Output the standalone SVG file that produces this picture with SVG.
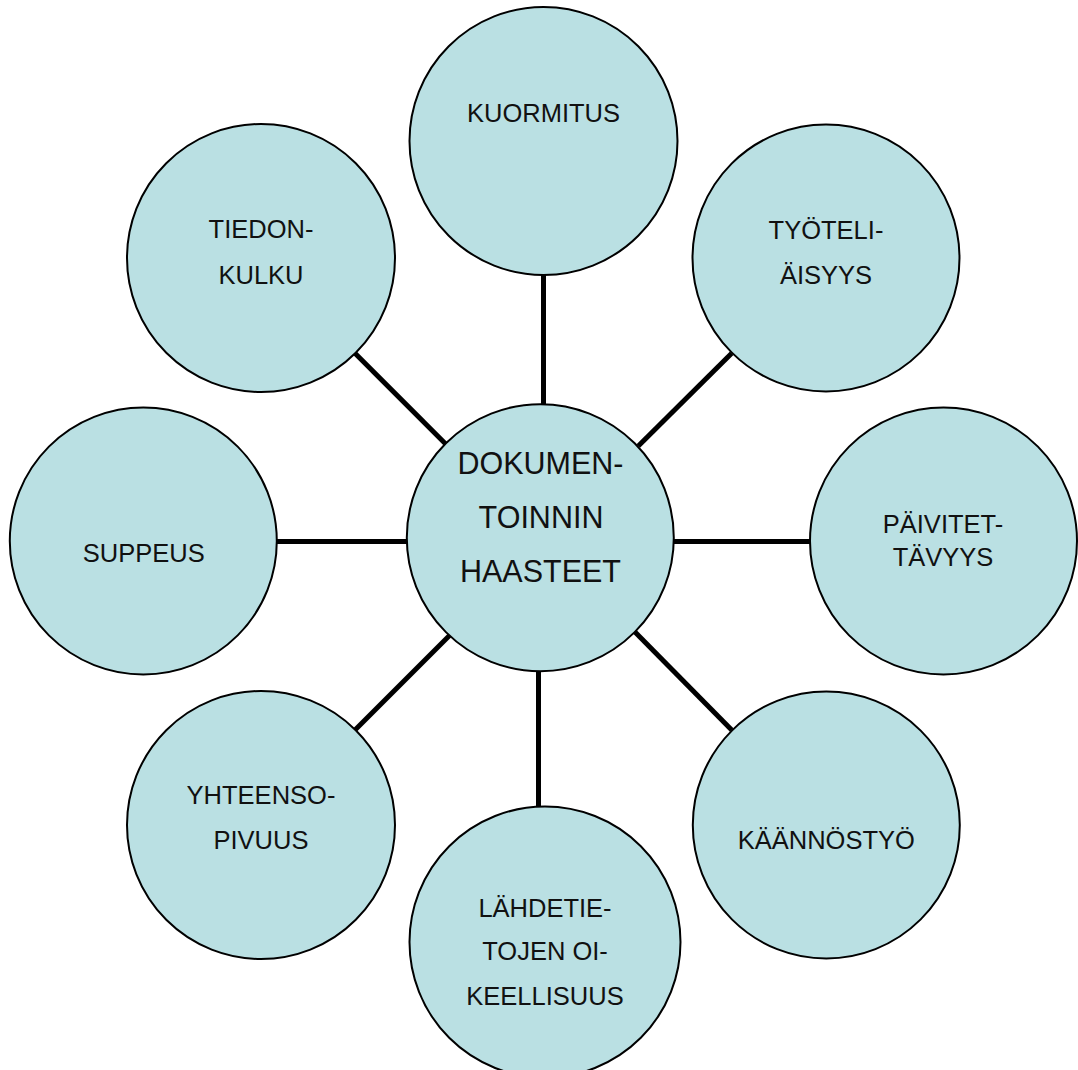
<svg xmlns="http://www.w3.org/2000/svg" width="1078" height="1070" viewBox="0 0 1078 1070">
<style>
.n{fill:#bae0e3;stroke:#000;stroke-width:2}
.c{stroke:#000;stroke-width:5;fill:none}
text{font-family:"Liberation Sans",Arial,sans-serif;font-size:25.5px;fill:#111;text-anchor:middle}
.big{font-size:30.5px}
</style>
<rect width="1078" height="1070" fill="#fff"/>
<g id="connectors">
<line class="c" x1="543.5" y1="275" x2="543.5" y2="405"/>
<line class="c" x1="731.7" y1="353.3" x2="638.3" y2="446"/>
<line class="c" x1="674" y1="541.5" x2="810" y2="541.5"/>
<line class="c" x1="634" y1="631" x2="731.7" y2="730"/>
<line class="c" x1="538.5" y1="671" x2="538.5" y2="807"/>
<line class="c" x1="450" y1="635" x2="355" y2="730"/>
<line class="c" x1="277" y1="541.5" x2="407" y2="541.5"/>
<line class="c" x1="355" y1="353.3" x2="446.7" y2="445"/>
</g>
<g id="kuormitus"><circle class="n" cx="543.5" cy="141" r="134"/><text x="543.5" y="121.7">KUORMITUS</text></g>
<g id="tyoteliaisyys"><circle class="n" cx="826" cy="258" r="133.5"/><text x="826" y="239">TYÖTELI-</text><text x="826" y="284">ÄISYYS</text></g>
<g id="paivitettavyys"><circle class="n" cx="943.5" cy="541" r="133.5"/><text x="943" y="532.7">PÄIVITET-</text><text x="943" y="565.7">TÄVYYS</text></g>
<g id="kaannostyo"><circle class="n" cx="826.3" cy="825" r="133.5"/><text x="826.3" y="849">KÄÄNNÖSTYÖ</text></g>
<g id="lahdetietojen"><circle class="n" cx="545" cy="942" r="135.5"/><text x="545" y="916.7">LÄHDETIE-</text><text x="545" y="960">TOJEN OI-</text><text x="545" y="1005">KEELLISUUS</text></g>
<g id="yhteensopivuus"><circle class="n" cx="261" cy="825" r="134"/><text x="261" y="804">YHTEENSO-</text><text x="261" y="849">PIVUUS</text></g>
<g id="suppeus"><circle class="n" cx="143.3" cy="541" r="133.5"/><text x="143.8" y="562.3">SUPPEUS</text></g>
<g id="tiedonkulku"><circle class="n" cx="261" cy="258" r="134"/><text x="261" y="238.3">TIEDON-</text><text x="261" y="284">KULKU</text></g>
<g id="center"><circle class="n" cx="540.3" cy="537.7" r="133.5"/><text class="big" x="540.5" y="474">DOKUMEN-</text><text class="big" x="541" y="528.3">TOINNIN</text><text class="big" x="540.5" y="581.7">HAASTEET</text></g>
</svg>
